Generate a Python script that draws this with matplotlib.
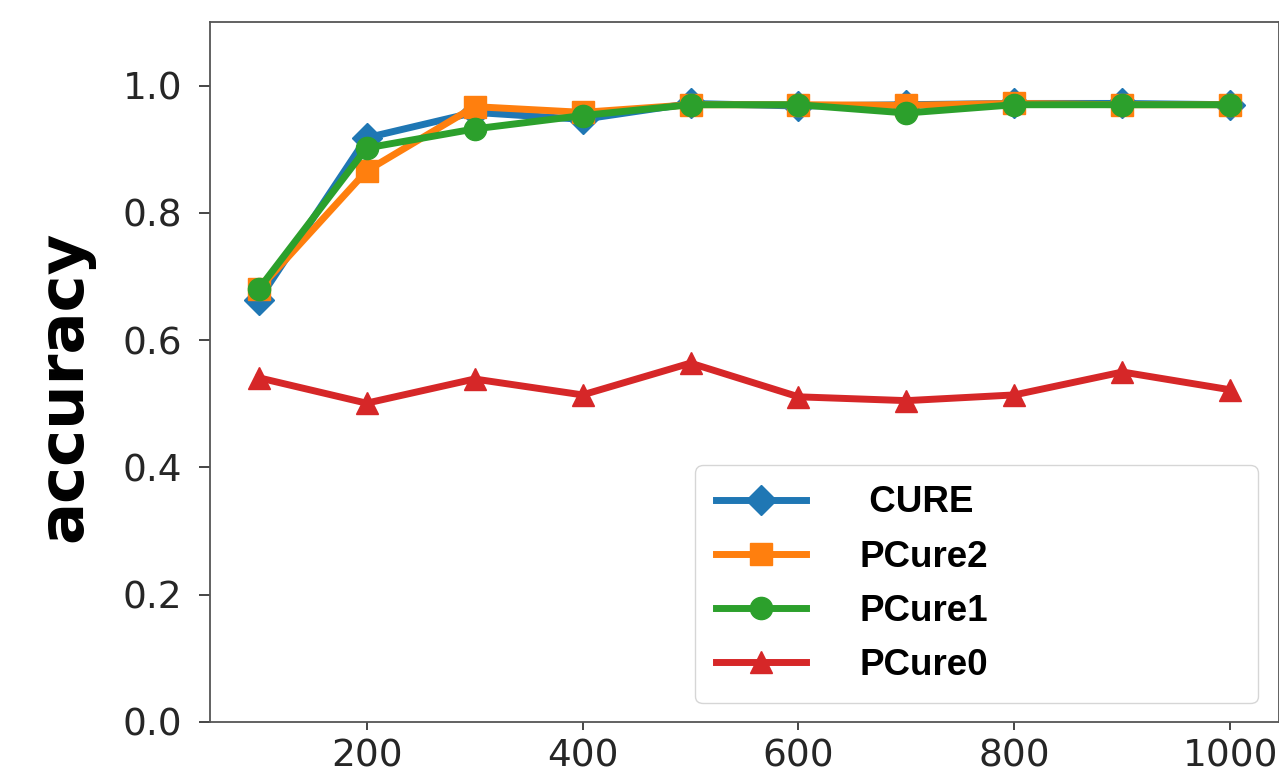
import matplotlib
matplotlib.use("Agg")
import matplotlib.pyplot as plt

# sample sizes and accuracy per method
sizes = [100, 200, 300, 400, 500, 600, 700, 800, 900, 1000]
cure = [0.663, 0.918, 0.958, 0.947, 0.972, 0.968, 0.970, 0.972, 0.972, 0.970]
pcure2 = [0.680, 0.866, 0.967, 0.958, 0.970, 0.970, 0.969, 0.972, 0.970, 0.970]
pcure1 = [0.680, 0.902, 0.932, 0.953, 0.970, 0.970, 0.957, 0.970, 0.970, 0.970]
pcure0 = [0.541, 0.501, 0.539, 0.514, 0.564, 0.511, 0.505, 0.514, 0.550, 0.522]

labels = [" CURE", "PCure2", "PCure1", "PCure0"]
series = [cure, pcure2, pcure1, pcure0]
markers = ["D", "s", "o", "^"]
msizes = [15, 16, 16, 16]
colors = ["#1f77b4", "#ff7f0e", "#2ca02c", "#d62728"]

fig = plt.figure(figsize=(12.79, 7.69), dpi=100)
ax = fig.add_axes([210 / 1279, 47 / 769, 1069 / 1279, 700 / 769])

for vals, lab, m, ms, c in zip(series, labels, markers, msizes, colors):
	ax.plot(sizes, vals, marker=m, color=c, label=lab, linewidth=5, markersize=ms)

ax.set_xlim(55, 1045)
ax.set_ylim(0, 1.1)
ax.set_xticks([200, 400, 600, 800, 1000])
ax.set_yticks([0.0, 0.2, 0.4, 0.6, 0.8, 1.0])
ax.tick_params(labelsize=27, width=1.2, colors="#262626")
ax.tick_params(axis="y", length=8, pad=12)
ax.tick_params(axis="x", length=6, pad=6)
for s in ax.spines.values():
	s.set_color("#555555")
	s.set_linewidth(1.3)

ax.set_ylabel("accuracy", fontsize=45, fontweight="bold", color="black")
ax.yaxis.set_label_coords(-0.108, 0.48)

leg = ax.legend(loc="lower left", bbox_to_anchor=(0.454, 0.027, 0.526, 0.333), mode="expand",
	prop={"family": ["Liberation Sans", "DejaVu Sans"], "weight": "bold", "size": 26.5},
	handlelength=2.45, handletextpad=1.45, labelspacing=0.52, borderpad=0.55, borderaxespad=0)
leg.get_frame().set_edgecolor("#cccccc")

fig.savefig("out.png", dpi=100)
